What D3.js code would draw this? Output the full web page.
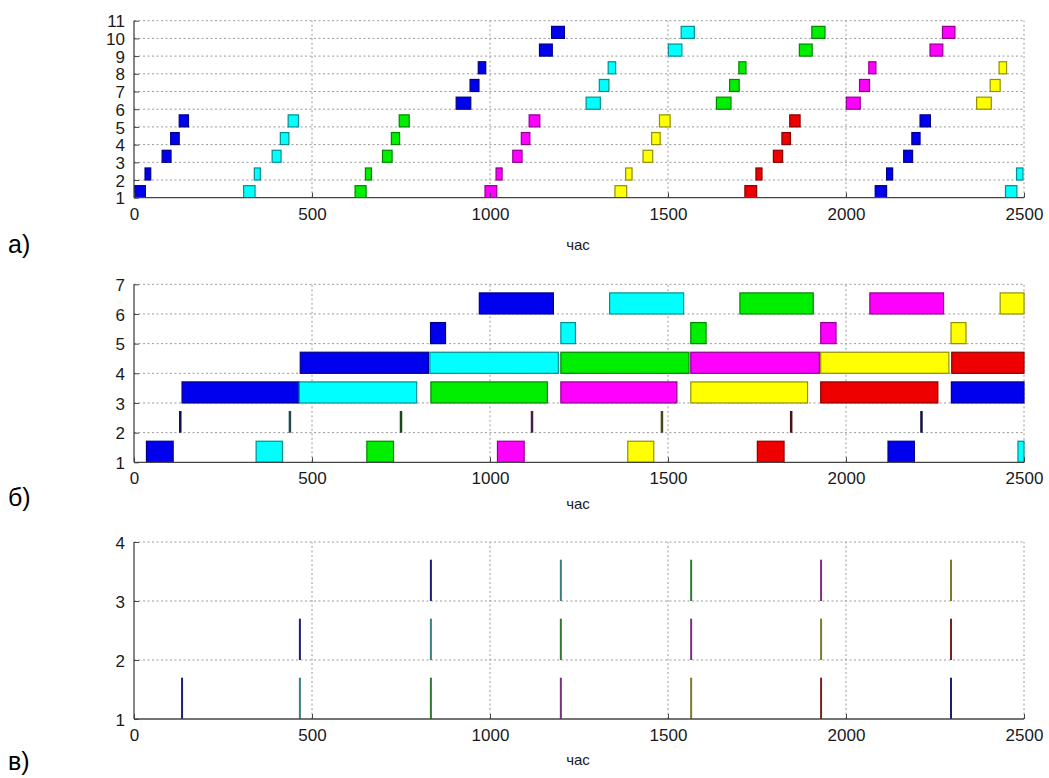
<!DOCTYPE html>
<html><head><meta charset="utf-8">
<script src="https://cdn.jsdelivr.net/npm/d3@7"></script>
<style>
body{margin:0;background:#fff;}
svg text{font-family:"Liberation Sans",Arial,sans-serif;}
</style></head>
<body><svg id="c" width="1049" height="778"></svg>
<script>
// ---------- data ----------
const fillColors = ["#0000ee", "#00ffff", "#00ee00", "#ff00ff", "#ffff00", "#ee0000"]; // blue, cyan, green, magenta, yellow, red
const lineColors = ["#1c1c7a", "#3a7f80", "#2f7a2f", "#7a2f80", "#7a7a2a", "#7a1f1f"];
const xTicks = [0, 500, 1000, 1500, 2000, 2500];
const xLabel = "час";
const panelLetters = ["а)", "б)", "в)"];

// panel а: [level, start, end, colorIndex]
const tasksA = [
  [1,0,32,0],[1,308,340,1],[1,621,652,2],[1,986,1019,3],[1,1351,1384,4],[1,1716,1749,5],[1,2082,2114,0],[1,2448,2480,1],
  [2,31,47,0],[2,338,355,1],[2,650,667,2],[2,1017,1034,3],[2,1381,1399,4],[2,1747,1764,5],[2,2114,2131,0],[2,2479,2497,1],
  [3,79,104,0],[3,388,413,1],[3,698,725,2],[3,1064,1090,3],[3,1430,1457,4],[3,1796,1822,5],[3,2162,2187,0],
  [4,103,127,0],[4,411,435,1],[4,723,746,2],[4,1088,1112,3],[4,1454,1478,4],[4,1820,1844,5],[4,2185,2208,0],
  [5,127,153,0],[5,433,462,1],[5,745,773,2],[5,1110,1140,3],[5,1476,1506,4],[5,1842,1871,5],[5,2208,2237,0],
  [6,905,946,0],[6,1270,1310,1],[6,1636,1677,2],[6,2001,2040,3],[6,2367,2408,4],
  [7,944,969,0],[7,1307,1334,1],[7,1673,1700,2],[7,2038,2066,3],[7,2405,2433,4],
  [8,967,988,0],[8,1332,1353,1],[8,1699,1719,2],[8,2064,2084,3],[8,2430,2451,4],
  [9,1139,1175,0],[9,1501,1539,1],[9,1869,1905,2],[9,2236,2272,3],
  [10,1173,1209,0],[10,1537,1574,1],[10,1904,1941,2],[10,2271,2306,3]
];
const yTicksA = [1,2,3,4,5,6,7,8,9,10,11];

// panel б: [level, start, end, colorIndex]
const tasksB = [
  [1,35,110,0],[1,343,417,1],[1,654,729,2],[1,1021,1096,3],[1,1387,1460,4],[1,1751,1826,5],[1,2118,2192,0],[1,2483,2500,1],
  [3,135,464,0],[3,464,794,1],[3,834,1161,2],[3,1199,1525,3],[3,1564,1892,4],[3,1929,2258,5],[3,2296,2500,0],
  [4,467,827,0],[4,831,1192,1],[4,1199,1559,2],[4,1564,1925,3],[4,1929,2289,4],[4,2297,2500,5],
  [5,833,875,0],[5,1199,1240,1],[5,1564,1607,2],[5,1929,1972,3],[5,2295,2337,4],
  [6,970,1178,0],[6,1336,1544,1],[6,1702,1908,2],[6,2067,2274,3],[6,2433,2500,4]
];
// panel б, level 2 instants: [level, time, colorIndex]
const eventsB = [[2,130,0],[2,438,1],[2,750,2],[2,1118,3],[2,1483,4],[2,1846,5],[2,2212,0]];
const yTicksB = [1,2,3,4,5,6,7];

// panel в instants: [level, time, colorIndex]
const eventsC = [
  [1,135,0],[1,466,1],[1,834,2],[1,1199,3],[1,1565,4],[1,1930,5],[1,2295,0],
  [2,466,0],[2,834,1],[2,1199,2],[2,1565,3],[2,1930,4],[2,2295,5],
  [3,834,0],[3,1199,1],[3,1565,2],[3,1930,3],[3,2295,4]
];
const yTicksC = [1,2,3,4];

// ---------- drawing ----------
const svg = d3.select("#c");
const x = d3.scaleLinear().domain([0, 2500]).range([134, 1024]);

const panels = [
  {yDom:[1,11], yRange:[197.7,20.7], ticks:yTicksA, labelY:250, letterY:253, barH:0.68},
  {yDom:[1,7], yRange:[462.3,284.3], ticks:yTicksB, labelY:509, letterY:506, barH:0.71},
  {yDom:[1,4], yRange:[719,542], ticks:yTicksC, labelY:765, letterY:770, barH:0.7}
];

panels.forEach((p, i) => {
  p.y = d3.scaleLinear().domain(p.yDom).range(p.yRange);
  const g = svg.append("g");
  const y = p.y;
  const clipId = "clip" + i;
  svg.append("clipPath").attr("id", clipId).append("rect")
    .attr("x", x(0)).attr("y", y(p.yDom[1]) - 1).attr("width", x(2500) - x(0) + 1).attr("height", y(p.yDom[0]) - y(p.yDom[1]) + 1);

  // grid
  const grid = g.append("g").attr("stroke", "#9a9a9a").attr("stroke-width", 1).attr("stroke-dasharray", "2,2.5");
  grid.selectAll("line.h").data(p.ticks.slice(1)).join("line")
    .attr("x1", x(0)).attr("x2", x(2500)).attr("y1", d => y(d)).attr("y2", d => y(d));
  grid.selectAll("line.v").data(xTicks.slice(1)).join("line")
    .attr("x1", d => x(d)).attr("x2", d => x(d)).attr("y1", y(p.yDom[0])).attr("y2", y(p.yDom[1]));

  p.g = g.append("g").attr("clip-path", `url(#${clipId})`);

  // axes
  const xa = d3.axisBottom(x).tickValues(xTicks).tickSize(-5).tickPadding(10).tickFormat(d3.format("d"));
  const xg = g.append("g").attr("transform", `translate(0,${y(p.yDom[0])})`).call(xa);
  const ya = d3.axisLeft(y).tickValues(p.ticks).tickSize(-5).tickPadding(9).tickFormat(d3.format("d"));
  const yg = g.append("g").attr("transform", `translate(${x(0)},0)`).call(ya);
  [xg, yg].forEach(a => {
    a.select(".domain").attr("stroke", "#444").attr("stroke-width", 1.3);
    a.selectAll(".tick line").attr("stroke", "#444");
    a.selectAll("text").attr("font-size", 17).attr("fill", "#1a1a1a")
      .attr("font-family", "Liberation Sans, Arial, sans-serif");
  });
  yg.select(".domain").attr("d", `M0,${y(p.yDom[0])}V${y(p.yDom[1])}`);
  xg.select(".domain").attr("d", `M${x(0)},0H${x(2500)}`);
  yg.selectAll(".tick text").attr("dy", "0.36em");

  g.append("text").attr("x", 578).attr("y", p.labelY).attr("text-anchor", "middle")
    .attr("font-size", 15).attr("fill", "#1a1a1a").text(xLabel);
  g.append("text").attr("x", 8).attr("y", p.letterY)
    .attr("font-family", "Liberation Serif, Times New Roman, serif").attr("font-size", 25)
    .attr("fill", "#000").text(panelLetters[i]);
});

function drawTasks(p, data) {
  p.g.selectAll("rect.t").data(data).join("rect").attr("class", "t")
    .attr("x", d => x(d[1]))
    .attr("width", d => Math.max(0, x(d[2]) - x(d[1])))
    .attr("y", d => p.y(d[0] + p.barH))
    .attr("height", d => p.y(d[0]) - p.y(d[0] + p.barH))
    .attr("fill", d => fillColors[d[3]])
    .attr("stroke", d => d3.color(fillColors[d[3]]).darker(1.6))
    .attr("stroke-width", 1.2);
}
drawTasks(panels[0], tasksA);
drawTasks(panels[1], tasksB);

function drawEvents(p, data, h, w, dark) {
  p.g.selectAll("line.e").data(data).join("line").attr("class", "e")
    .attr("x1", d => x(d[1])).attr("x2", d => x(d[1]))
    .attr("y1", d => p.y(d[0])).attr("y2", d => p.y(d[0] + h))
    .attr("stroke", d => dark ? d3.color(lineColors[d[2]]).darker(1.5) : lineColors[d[2]])
    .attr("stroke-width", w);
}
drawEvents(panels[1], eventsB, 0.73, 2.5, true);
drawEvents(panels[2], eventsC, 0.7, 2, false);
</script></body></html>
